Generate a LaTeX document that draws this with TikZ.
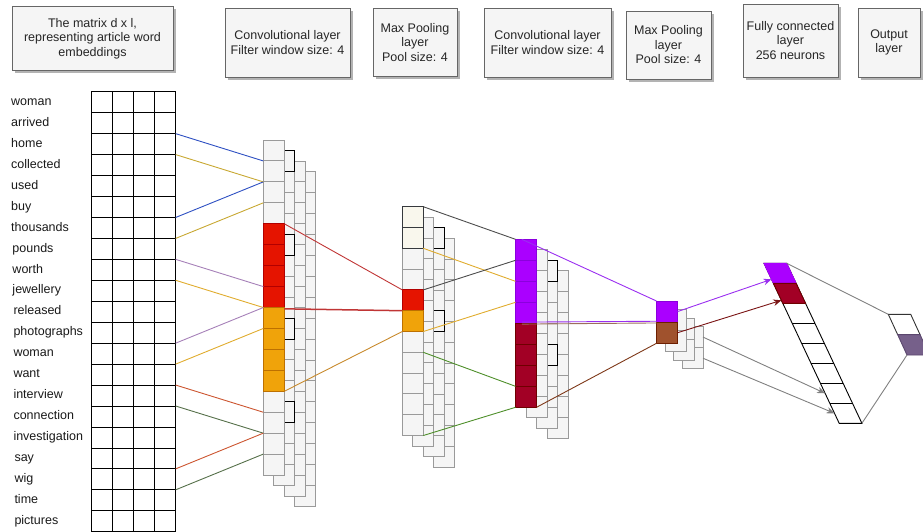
\documentclass[tikz,border=0pt]{standalone}
\usepackage{fontspec}
\setmainfont{Liberation Sans}
\usetikzlibrary{shadows,arrows.meta,calc}
\definecolor{cfill}{HTML}{F5F5F5}
\definecolor{cline}{HTML}{9A9A9A}
\definecolor{hdrline}{HTML}{666666}
\definecolor{redF}{HTML}{E51400}
\definecolor{redD}{HTML}{B20000}
\definecolor{orF}{HTML}{F0A30A}
\definecolor{orD}{HTML}{BD7000}
\definecolor{puF}{HTML}{AA00FF}
\definecolor{puD}{HTML}{8A00DD}
\definecolor{crF}{HTML}{A20025}
\definecolor{crD}{HTML}{6F0000}
\definecolor{brF}{HTML}{A0522D}
\definecolor{brD}{HTML}{6D1F00}
\definecolor{beF}{HTML}{F9F7ED}
\definecolor{beD}{HTML}{36393D}
\definecolor{outF}{HTML}{76608A}
\definecolor{outD}{HTML}{5B476E}
\definecolor{lnBlue}{HTML}{2D4FC2}
\definecolor{lnOlive}{HTML}{C8A832}
\definecolor{lnLav}{HTML}{A680B8}
\definecolor{lnGold}{HTML}{E0AC2E}
\definecolor{lnOrRed}{HTML}{CC5530}
\definecolor{lnDkGreen}{HTML}{56704A}
\definecolor{lnRed}{HTML}{C03535}
\definecolor{lnOrange}{HTML}{C88A2C}
\definecolor{lnGray}{HTML}{4D4D4D}
\definecolor{lnGreen}{HTML}{4E8F2A}
\definecolor{lnPurple}{HTML}{9A2EF0}
\definecolor{lnBrown}{HTML}{7E3818}
\definecolor{lnCrimson}{HTML}{7A1414}
\definecolor{lnLtGray}{HTML}{808080}
\definecolor{lnTaupe}{HTML}{9C6E5C}

\begin{document}
\begin{tikzpicture}[x=1pt,y=-1pt,
  every node/.style={font=\fontsize{12.5}{14.5}\selectfont},
  hdr/.style={draw=hdrline,fill=cfill,line width=0.8pt,align=center,inner sep=2pt,text=black!85,
     drop shadow={shadow xshift=2.5pt,shadow yshift=-2.5pt,fill=black!50,opacity=0.6}},
  word/.style={anchor=west,inner sep=0pt,text height=9pt,text depth=2.6pt,text=black!90},
  mcell/.style={draw=black,line width=0.8pt,minimum width=21pt,minimum height=20.95pt,anchor=north west,inner sep=0pt,outer sep=0pt},
  scell/.style={draw=cline,fill=cfill,line width=0.9pt,minimum width=21pt,anchor=north west,inner sep=0pt,outer sep=0pt},
  hcell/.style={scell,draw=black},
  rcell/.style={scell,fill=redF,draw=redD},
  ocell/.style={scell,fill=orF,draw=orD},
  pcell/.style={scell,fill=puF,draw=puD},
  kcell/.style={scell,fill=crF,draw=crD},
  bcell/.style={scell,fill=brF,draw=brD},
  ecell/.style={scell,fill=beF,draw=beD},
  conn/.style={line width=0.9pt},
  arr/.style={line width=0.9pt,-{Stealth[length=8pt,width=6.5pt,inset=2.5pt]}},
]
\useasboundingbox (0,0) rectangle (923,531);

% ---------- header boxes ----------
\node[hdr,minimum width=161pt,minimum height=63.5pt] (h1) at (92.5,38.5) {The matrix d x l,\\representing article word\\embeddings};
\node[hdr,minimum width=125pt,minimum height=69pt] (h2) at (287.5,42.5) {Convolutional layer\\Filter window size: 4};
\node[hdr,minimum width=84pt,minimum height=68.5pt] (h3) at (415,42.25) {Max Pooling\\layer\\Pool size: 4};
\node[hdr,minimum width=127pt,minimum height=69pt] (h4) at (547.5,42.5) {Convolutional layer\\Filter window size: 4};
\node[hdr,minimum width=85pt,minimum height=68pt] (h5) at (668.5,45) {Max Pooling\\layer\\Pool size: 4};
\node[hdr,minimum width=95pt,minimum height=73pt] (h6) at (790.5,40.5) {Fully connected\\layer\\256 neurons};
\node[hdr,minimum width=62pt,minimum height=69pt] (h7) at (889,42.5) {Output\\layer};

% ---------- words ----------
\foreach \wi/\wx/\wt in {0/11/woman,1/11/arrived,2/11/home,3/11/collected,4/11/used,5/11/buy,6/11/thousands,
  7/12.3/pounds,8/12.3/worth,9/12.3/jewellery,10/13.3/released,11/13.3/photographs,12/13.3/woman,13/13.3/want,
  14/13.3/interview,15/13.3/connection,16/13.3/investigation,17/14.3/say,18/14.3/wig,19/14.3/time,20/14.3/pictures}
  \node[word] (w-\wi) at (\wx,{91.75+20.95*(\wi+0.5)}) {\wt};

% ---------- matrix ----------
\foreach \mr in {0,...,20}
  \foreach \mc in {0,...,3}
    \node[mcell] (m-\mr-\mc) at ({91.7+21*\mc},{91.75+20.95*\mr}) {};

% ---------- conv layer 1 ----------
\foreach \L in {3,2,1}
  \foreach \j in {0,...,15}
    \node[scell,minimum height=20.94pt] (c1L\L-\j) at ({263.3+10.5*\L},{140+10.5*\L+20.94*\j}) {};
\foreach \j in {0,4,8,12}
  \node[hcell,minimum height=20.94pt] (c1h-\j) at (273.8,{150.5+20.94*\j}) {};
\foreach \j in {0,1,2,3,12,13,14,15}
  \node[scell,minimum height=20.94pt] (c1-\j) at (263.3,{140+20.94*\j}) {};
\foreach \j in {4,5,6,7}
  \node[rcell,minimum height=20.94pt] (c1-\j) at (263.3,{140+20.94*\j}) {};
\foreach \j in {8,9,10,11}
  \node[ocell,minimum height=20.94pt] (c1-\j) at (263.3,{140+20.94*\j}) {};

% ---------- pooling layer 1 ----------
\foreach \L in {3,2}
  \foreach \j in {0,...,10}
    \node[scell,minimum height=20.8pt] (p1L\L-\j) at ({402.3+10.5*\L},{206.7+10.5*\L+20.8*\j}) {};
\foreach \j in {0,4}
  \node[hcell,minimum height=20.8pt] (p1h-\j) at (423.3,{227.7+20.8*\j}) {};
\foreach \j in {0,...,10}
  \node[scell,minimum height=20.8pt] (p1L1-\j) at (412.8,{217.2+20.8*\j}) {};
\foreach \j in {2,3,6,7,8,9,10}
  \node[scell,minimum height=20.8pt] (p1-\j) at (402.3,{206.7+20.8*\j}) {};
\foreach \j in {0,1}
  \node[ecell,minimum height=20.8pt] (p1-\j) at (402.3,{206.7+20.8*\j}) {};
\node[rcell,minimum height=20.8pt] (p1-4) at (402.3,{206.7+20.8*4}) {};
\node[ocell,minimum height=20.8pt] (p1-5) at (402.3,{206.7+20.8*5}) {};

% ---------- conv layer 2 ----------
\foreach \L in {3,2}
  \foreach \j in {0,...,7}
    \node[scell,minimum height=21pt] (c2L\L-\j) at ({515.5+10.5*\L},{239.3+10.5*\L+21*\j}) {};
\foreach \j in {0,4}
  \node[hcell,minimum height=21pt] (c2h-\j) at (536.5,{260.3+21*\j}) {};
\foreach \j in {0,...,7}
  \node[scell,minimum height=21pt] (c2L1-\j) at (526,{249.8+21*\j}) {};
\foreach \j in {0,1,2,3}
  \node[pcell,minimum height=21pt] (c2-\j) at (515.5,{239.3+21*\j}) {};
\foreach \j in {4,5,6,7}
  \node[kcell,minimum height=21pt] (c2-\j) at (515.5,{239.3+21*\j}) {};

% ---------- pooling layer 2 ----------
\foreach \L in {3,2,1}
  \foreach \j in {0,1}
    \node[scell,minimum height=21.15pt] (p2L\L-\j) at ({656.5+8.5*\L},{301+8.5*\L+21.15*\j}) {};
\node[pcell,minimum height=21.15pt] (p2-0) at (656.5,301) {};
\node[bcell,minimum height=21.15pt] (p2-1) at (656.5,322.15) {};

% ---------- fully connected layer ----------
\foreach \k in {0,...,8} {
  \coordinate (fcL-\k) at ({764+9.4*\k},{263.3+20*\k});
  \coordinate (fcR-\k) at ({786.7+9.4*\k},{263.3+20*\k});
}
\draw[line width=0.9pt,fill=white] (fcL-0) -- (fcR-0) -- (fcR-8) -- (fcL-8) -- cycle;
\foreach \k in {3,...,7} \draw[line width=0.9pt] (fcL-\k) -- (fcR-\k);
\filldraw[fill=puF,draw=puF,line width=0.9pt] (fcL-0) -- (fcR-0) -- (fcR-1) -- (fcL-1) -- cycle;
\filldraw[fill=crF,draw=crD,line width=0.9pt] (fcL-1) -- (fcR-1) -- (fcR-2) -- (fcL-2) -- cycle;

% ---------- output layer ----------
\foreach \k in {0,1,2} {
  \coordinate (oL-\k) at ({888.3+9.35*\k},{314.3+20.35*\k});
  \coordinate (oR-\k) at ({910.7+9.35*\k},{314.3+20.35*\k});
}
\filldraw[fill=white,draw=black!80,line width=0.9pt] (oL-0) -- (oR-0) -- (oR-1) -- (oL-1) -- cycle;
\filldraw[fill=outF,draw=outD,line width=0.9pt] (oL-1) -- (oR-1) -- (oR-2) -- (oL-2) -- cycle;

% ---------- connectors: matrix -> conv 1 ----------
\foreach \mr/\cr/\cl in {2/1/lnBlue,3/2/lnOlive,6/2/lnBlue,7/3/lnOlive,8/7/lnLav,9/8/lnGold,
  12/8/lnLav,13/9/lnGold,14/13/lnOrRed,15/14/lnDkGreen,18/14/lnOrRed,19/15/lnDkGreen}
  \draw[conn,draw=\cl] (m-\mr-3.north east) -- (c1-\cr.north west);

% ---------- conv 1 -> pool 1 ----------
\draw[conn,draw=lnRed] (c1-4.north east) -- (p1-4.north west);
\draw[draw=lnRed,line width=1.5pt] ($(c1-7.south east)+(0,1.3)$) -- (p1-4.south west);
\draw[conn,draw=lnOrange] (c1-11.south east) -- (p1-5.south west);

% ---------- pool 1 -> conv 2 ----------
\draw[conn,draw=lnGray] (p1-0.north east) -- (c2-0.north west);
\draw[conn,draw=lnGold] (p1-2.north east) -- (c2-2.north west);
\draw[conn,draw=lnGray] (p1-4.north east) -- (c2-1.north west);
\draw[conn,draw=lnGold] (p1-6.north east) -- (c2-3.north west);
\draw[conn,draw=lnGreen] (p1-7.north east) -- (c2-7.north west);
\draw[conn,draw=lnGreen] (p1-10.south east) -- (c2-7.south west);

% ---------- conv 2 -> pool 2 ----------
\draw[conn,draw=lnPurple] ($(c2-0.north west)!0.3!(c2-0.north east)$) -- (p2-0.north west);
\draw[conn,draw=lnTaupe] ($(c2-4.north west)!0.3!(c2-4.north east)+(0,0.8)$) -- ($(p2-1.north west)+(0,0.8)$);
\draw[conn,draw=lnPurple] ($(c2-3.south west)!0.3!(c2-3.south east)+(0,-1.2)$) -- ($(p2-0.south west)+(0,-0.9)$);
\draw[conn,draw=lnBrown] (c2-7.south east) -- (p2-1.south west);

% ---------- pool 2 -> fully connected ----------
\draw[arr,draw=lnPurple] (p2-0.east) -- ($(fcL-0)!0.8!(fcL-1)$);
\draw[arr,draw=lnCrimson] (p2-1.east) -- ($(fcL-1)!0.85!(fcL-2)$);
\draw[arr,draw=lnLtGray] (p2L3-0.east) -- ($(fcL-6)!0.5!(fcL-7)$);
\draw[arr,draw=lnLtGray] (p2L3-1.east) -- ($(fcL-7)!0.5!(fcL-8)$);

% ---------- fully connected -> output ----------
\draw[conn,draw=lnLtGray] (fcR-0) -- (oL-0);
\draw[conn,draw=lnLtGray] (fcR-8) -- (oL-2);
\end{tikzpicture}
\end{document}
